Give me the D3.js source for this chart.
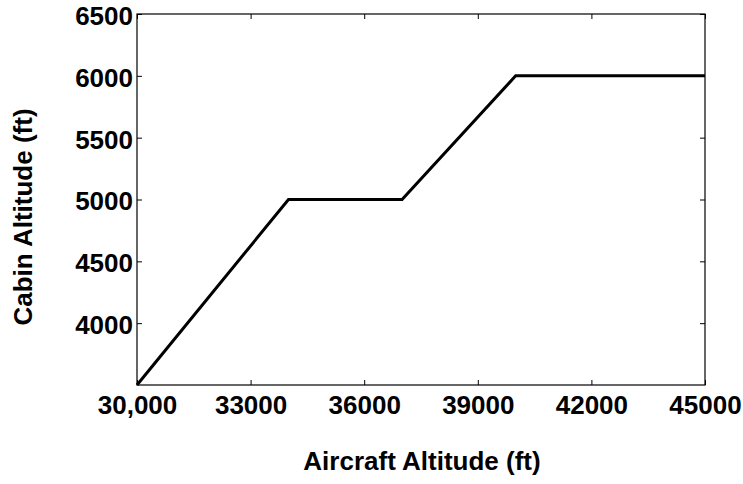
<!DOCTYPE html>
<html>
<head>
<meta charset="utf-8">
<script src="https://cdn.jsdelivr.net/npm/d3@7"></script>
<style>
  html, body { margin: 0; padding: 0; background: #fff; }
  text { font-family: "Liberation Sans", Arial, Helvetica, sans-serif; font-weight: bold; fill: #000; }
</style>
</head>
<body>
<svg id="chart" width="743" height="484"></svg>
<script>
// Data
const aircraftAltitude = [30000, 34000, 37000, 40000, 45000];
const cabinAltitude    = [3500, 5000, 5000, 6000, 6000];
const xTicks = [30000, 33000, 36000, 39000, 42000, 45000];
const xTickLabels = ["30,000", "33000", "36000", "39000", "42000", "45000"];
const yTicks = [4000, 4500, 5000, 5500, 6000, 6500];
const yTickLabels = ["4000", "4500", "5000", "5500", "6000", "6500"];
const xLabel = "Aircraft Altitude (ft)";
const yLabel = "Cabin Altitude (ft)";

(function () {
const svg = d3.select("#chart");
const pLeft = 137, pRight = 705, pTop = 14, pBottom = 385;

const x = d3.scaleLinear().domain([30000, 45000]).range([pLeft, pRight]);
const y = d3.scaleLinear().domain([3500, 6500]).range([pBottom, pTop]);

const fontSize = 26;
const tickLen = 5;

const xAxis = d3.axisBottom(x).tickValues(xTicks)
  .tickFormat((d, i) => xTickLabels[i]).tickSizeInner(-tickLen).tickSizeOuter(0).tickPadding(11);
const gx = svg.append("g").attr("transform", `translate(0,${pBottom})`).call(xAxis);
const gxt = svg.append("g").attr("transform", `translate(0,${pTop})`)
  .call(d3.axisTop(x).tickValues(xTicks).tickFormat("").tickSizeInner(-tickLen).tickSizeOuter(0));
const yAxis = d3.axisLeft(y).tickValues(yTicks)
  .tickFormat((d, i) => yTickLabels[i]).tickSizeInner(-tickLen).tickSizeOuter(0).tickPadding(4);
const gy = svg.append("g").attr("transform", `translate(${pLeft},0)`).call(yAxis);
const gyr = svg.append("g").attr("transform", `translate(${pRight},0)`)
  .call(d3.axisRight(y).tickValues(yTicks).tickFormat("").tickSizeInner(-tickLen).tickSizeOuter(0));

[gx, gxt, gy, gyr].forEach(g => {
  g.select(".domain").remove();
  g.selectAll(".tick line").attr("stroke", "#000").attr("stroke-width", 1);
  g.selectAll("text").style("font-size", fontSize + "px")
    .style("font-family", '"Liberation Sans", Arial, sans-serif').style("font-weight", "bold").attr("fill", "#000");
});
gy.selectAll(".tick text").attr("dy", "0.40em");
gx.selectAll(".tick text").attr("dy", "0.71em");

svg.append("rect").attr("x", pLeft).attr("y", pTop)
  .attr("width", pRight - pLeft).attr("height", pBottom - pTop)
  .attr("fill", "none").attr("stroke", "#000").attr("stroke-width", 1.2);

const pts = aircraftAltitude.map((a, i) => [a, cabinAltitude[i]]);
svg.append("path").datum(pts)
  .attr("fill", "none").attr("stroke", "#000").attr("stroke-width", 3)
  .attr("stroke-linejoin", "miter")
  .attr("d", d3.line().x(d => x(d[0])).y(d => y(d[1])));

svg.append("text").attr("x", 422).attr("y", 470)
  .attr("text-anchor", "middle").style("font-size", fontSize + "px").text(xLabel);
svg.append("text").attr("transform", `translate(32,217) rotate(-90)`)
  .attr("text-anchor", "middle").style("font-size", fontSize + "px").text(yLabel);
})();
</script>
</body>
</html>
